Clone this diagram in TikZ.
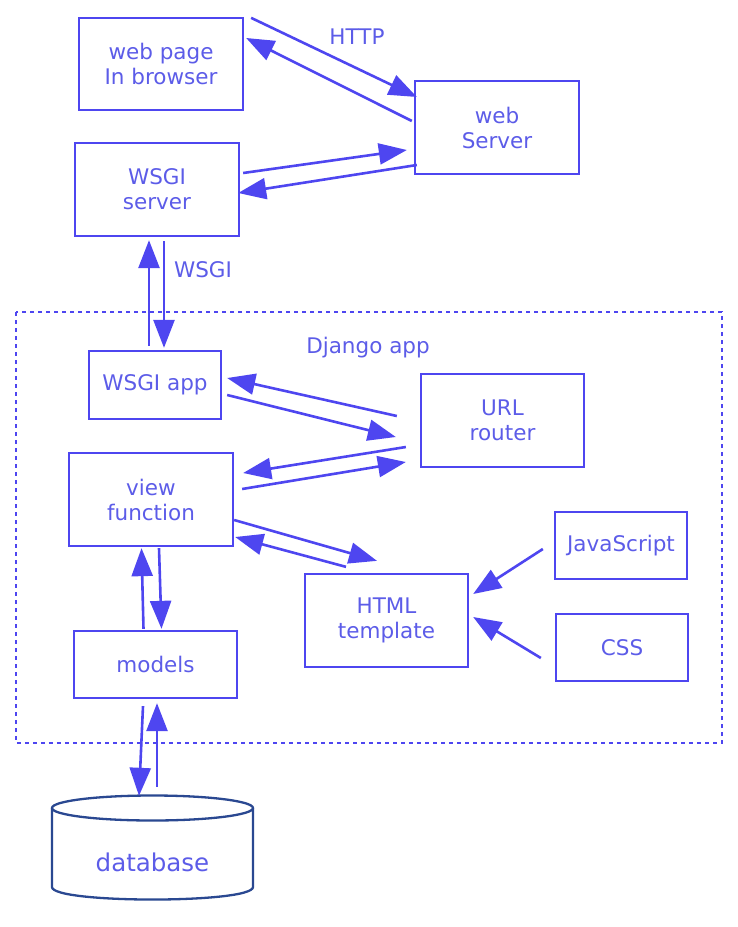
\documentclass[tikz,border=0pt]{standalone}
\usepackage{fontspec}
\setmainfont{DejaVu Sans}
\usetikzlibrary{arrows.meta,calc}
\definecolor{boxblue}{RGB}{78,70,240}
\definecolor{textblue}{RGB}{92,92,232}
\definecolor{dbnavy}{RGB}{42,72,145}

\begin{document}
\begin{tikzpicture}[x=1pt,y=-1pt]
    \useasboundingbox (0,0) rectangle (738,927);

    % django app frame
    \draw[boxblue, line width=2pt, dash pattern=on 4pt off 4pt] (16,312) rectangle (722,743);

    \begin{scope}[every node/.style={rectangle, draw=boxblue, line width=2.3pt, text=textblue, align=center, inner sep=0pt, font=\fontsize{21.5}{25}\selectfont}]
        \node[minimum width=164pt, minimum height=92pt] (page) at (161,64) {web page\\In browser};
        \node[minimum width=164pt, minimum height=93pt] (server) at (497,127.5) {web\\Server};
        \node[minimum width=164pt, minimum height=93pt] (wsgiserver) at (157,189.5) {WSGI\\server};
        \node[minimum width=132pt, minimum height=68pt] (wsgiapp) at (155,385) {WSGI app};
        \node[minimum width=163pt, minimum height=93pt] (router) at (502.5,420.5) {URL\\router};
        \node[minimum width=164pt, minimum height=93pt] (view) at (151,499.5) {view\\function};
        \node[minimum width=132pt, minimum height=67pt] (js) at (621,545.5) {JavaScript};
        \node[minimum width=163pt, minimum height=93pt] (html) at (386.5,620.5) {HTML\\template};
        \node[minimum width=132pt, minimum height=67pt] (css) at (622,647.5) {CSS};
        \node[minimum width=163pt, minimum height=67pt] (models) at (155.5,664.5) {models};
    \end{scope}

    % database cylinder
    \draw[dbnavy, line width=2.3pt] (152.5,808) ellipse [x radius=100.5pt, y radius=12.5pt];
    \draw[dbnavy, line width=2.3pt] (52,808) -- (52,887) .. controls (52,903.7) and (253,903.7) .. (253,887) -- (253,808);
    \node[text=textblue, inner sep=0pt, minimum width=201pt, minimum height=134pt, font=\fontsize{24.5}{28}\selectfont] (db) at (152.5,862) {database};

    \begin{scope}[every node/.style={text=textblue, inner sep=0pt, font=\fontsize{21.5}{25}\selectfont}]
        \node (http) at (357,37) {HTTP};
        \node (wsgi) at (203,270) {WSGI};
        \node (django) at (368,348) {Django app};
    \end{scope}

    \begin{scope}[every edge/.style={draw=boxblue, line width=2.6pt, -{Triangle[length=28pt,width=21pt]}}]
        \path ($(page.north east)+(7,1)$) edge ($(server.west)+(3,-30.5)$);
        \path ($(server.west)+(-2,-6.5)$) edge ($(page.east)+(2,-26)$);
        \path ($(wsgiserver.east)+(3,-16.5)$) edge ($(server.west)+(-7,22.5)$);
        \path ($(server.west)+(3,37.5)$) edge ($(wsgiserver.east)+(-2,3.5)$);
        \path ($(wsgiapp.north)+(-6,-4)$) edge ($(wsgiserver.south)+(-8,3)$);
        \path ($(wsgiserver.south)+(7,4)$) edge ($(wsgiapp.north)+(9,-2)$);
        \path ($(wsgiapp.east)+(5,10)$) edge ($(router.west)+(-24,16.5)$);
        \path ($(router.west)+(-23,-4.5)$) edge ($(wsgiapp.east)+(5,-7)$);
        \path ($(router.west)+(-14,26.5)$) edge ($(view.east)+(9,-26.5)$);
        \path ($(view.east)+(8,-10.5)$) edge ($(router.west)+(-14,41.5)$);
        \path ($(view.east)+(0,20.5)$) edge ($(html.north)+(-9.5,-12)$);
        \path ($(html.north)+(-40.5,-6)$) edge ($(view.east)+(1,37.5)$);
        \path ($(models.north)+(-12,-1)$) edge ($(view.south)+(-9.5,1)$);
        \path ($(view.south)+(8,1)$) edge ($(models.north)+(6,-1)$);
        \path ($(js.west)+(-11,3.5)$) edge ($(html.east)+(4,-26.5)$);
        \path ($(css.west)+(-14,10.5)$) edge ($(html.east)+(4,-3.5)$);
        \path ($(models.south)+(-12.5,7)$) edge ($(db.north)+(-13.5,1)$);
        \path ($(db.north)+(4.5,-8)$) edge ($(models.south)+(1.5,4)$);
    \end{scope}
\end{tikzpicture}
\end{document}
